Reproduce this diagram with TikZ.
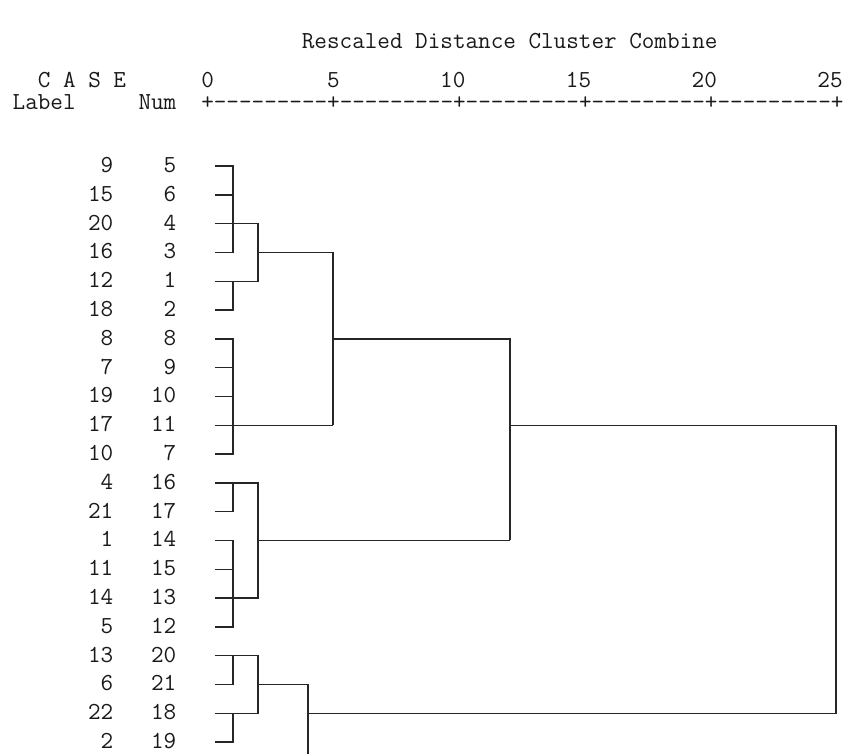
\documentclass[tikz,border=0pt]{standalone}
\usepackage{fontspec}
\begin{document}
\begin{tikzpicture}[x=1pt,y=1pt,
  txt/.style={inner sep=0pt, outer sep=0pt, text height=13pt, text depth=1pt, font=\ttfamily\fontsize{24.45}{28}\selectfont, text=black!90},
  tree/.style={draw=black!85, line width=1.4pt, line join=miter}]
\useasboundingbox (0,0) rectangle (850,-753);
% header
\node[txt, anchor=base west] (title) at (301.9,-48) {Rescaled Distance Cluster Combine};
\node[txt, anchor=base west] (case) at (37.9,-87) {C A S E};
\node[txt, anchor=base] (t0) at (207.6,-87) {0};
\node[txt, anchor=base] (t5) at (333.4,-87) {5};
\node[txt, anchor=base] (t10) at (452.8,-87) {10};
\node[txt, anchor=base] (t15) at (578.5,-87) {15};
\node[txt, anchor=base] (t20) at (704.3,-87) {20};
\node[txt, anchor=base] (t25) at (830.0,-87) {25};
\node[txt, anchor=base west] (label) at (12.7,-109) {Label};
\node[txt, anchor=base west] (num) at (138.5,-109) {Num};
\node[txt, anchor=base west] (ruler) at (201.3,-109) {+---------+---------+---------+---------+---------+};
% rows
\foreach \lab/\nm [count=\i from 0] in {9/5,15/6,20/4,16/3,12/1,18/2,8/8,7/9,19/10,17/11,10/7,4/16,21/17,1/14,11/15,14/13,5/12,13/20,6/21,22/18,2/19} {
  \node[txt, anchor=base east] (lab\i) at (113.3, {-(166+28.8*\i)-6.5}) {\lab};
  \node[txt, anchor=base east] (num\i) at (176.2, {-(166+28.8*\i)-6.5}) {\nm};
  \coordinate (leaf\i) at (215, {-(166+28.8*\i)});
}
% merge columns
\coordinate (ca) at (233,0);
\coordinate (cb) at (258,0);
\coordinate (cc) at (308,0);
\coordinate (cd) at (333,0);
\coordinate (ce) at (510,0);
\coordinate (cf) at (836,0);
\coordinate (bottom) at (308,-756);
% cluster A
\draw[tree] (leaf0) -- (leaf0 -| ca) -- (leaf3 -| ca) -- (leaf3);
\draw[tree] (leaf1) -- (leaf1 -| ca);
\draw[tree] (leaf2) -- (leaf2 -| cb) -- (leaf4 -| cb) -- (leaf4);
\draw[tree] (leaf4 -| ca) -- (leaf5 -| ca) -- (leaf5);
\draw[tree] (leaf3 -| cb) -- (leaf3 -| cd);
% cluster B
\draw[tree] (leaf6) -- (leaf6 -| ca) -- (leaf10 -| ca) -- (leaf10);
\draw[tree] (leaf7) -- (leaf7 -| ca);
\draw[tree] (leaf8) -- (leaf8 -| ca);
\draw[tree] (leaf9) -- (leaf9 -| cd);
\draw[tree] (leaf3 -| cd) -- (leaf9 -| cd);
\draw[tree] (leaf6 -| cd) -- (leaf6 -| ce) -- (leaf13 -| ce);
% cluster C
\draw[tree] (leaf11) -- (leaf11 -| cb) -- (leaf15 -| cb) -- (leaf15);
\draw[tree] (leaf11 -| ca) -- (leaf12 -| ca) -- (leaf12);
\draw[tree] (leaf13) -- (leaf13 -| ca) -- (leaf16 -| ca) -- (leaf16);
\draw[tree] (leaf14) -- (leaf14 -| ca);
\draw[tree] (leaf13 -| cb) -- (leaf13 -| ce);
\draw[tree] (leaf9 -| ce) -- (leaf9 -| cf) -- (leaf19 -| cf) -- (leaf19 -| cc);
% cluster D
\draw[tree] (leaf17) -- (leaf17 -| cb) -- (leaf19 -| cb) -- (leaf19);
\draw[tree] (leaf17 -| ca) -- (leaf18 -| ca) -- (leaf18);
\draw[tree] (leaf19 -| ca) -- (leaf20 -| ca) -- (leaf20);
\draw[tree] (leaf18 -| cb) -- (leaf18 -| cc) -- (bottom);
\end{tikzpicture}
\end{document}
